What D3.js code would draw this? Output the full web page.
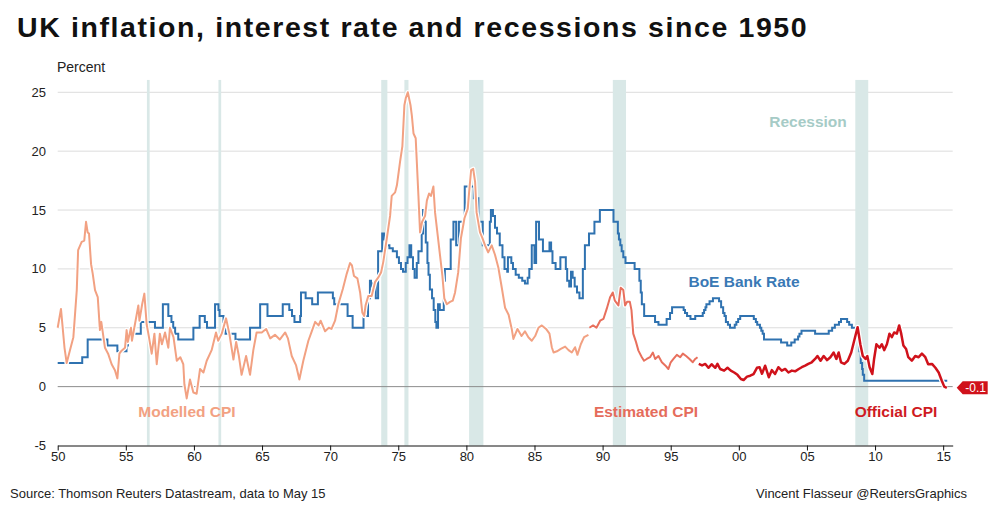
<!DOCTYPE html>
<html>
<head>
<meta charset="utf-8">
<script src="https://cdn.jsdelivr.net/npm/d3@7/dist/d3.min.js"></script>
<style>
  body { margin: 0; background: #fff; }
  svg { font-family: "Liberation Sans", Arial, sans-serif; }
</style>
</head>
<body>
<div class="container"></div>
<script>
// recession periods [start, end] in decimal years
var recessions = [
  [1956.55, 1956.75], [1961.8, 1962.0], [1973.75, 1974.2], [1975.45, 1975.75],
  [1980.2, 1981.25], [1990.75, 1991.72], [2008.55, 2009.5]
];

// BoE Bank Rate, change points [year, rate]
var bankRate = [
  [1950.0, 2.0], [1951.8, 2.5], [1952.2, 4.0], [1953.65, 3.5], [1954.38, 3.0],
  [1955.05, 3.5], [1955.15, 4.5], [1956.1, 5.5], [1957.14, 5.0], [1957.72, 7.0],
  [1958.12, 6.0], [1958.35, 5.5], [1958.48, 5.0], [1958.62, 4.5], [1958.85, 4.0],
  [1959.96, 5.0], [1960.42, 6.0], [1960.8, 5.5], [1960.96, 5.0], [1961.55, 7.0],
  [1961.8, 6.5], [1961.88, 6.0], [1962.17, 5.5], [1962.25, 5.0], [1962.32, 4.5],
  [1963.05, 4.0], [1964.12, 5.0], [1964.86, 7.0], [1965.4, 6.0], [1966.52, 7.0],
  [1967.0, 6.5], [1967.2, 6.0], [1967.38, 5.5], [1967.8, 6.0], [1967.86, 8.0],
  [1968.2, 7.5], [1968.68, 7.0], [1969.1, 8.0], [1970.2, 7.5], [1970.3, 7.0],
  [1971.28, 6.0], [1971.65, 5.0], [1972.45, 6.0], [1972.78, 7.5], [1972.92, 9.0],
  [1973.0, 8.5], [1973.15, 8.75], [1973.35, 7.5], [1973.52, 11.5], [1973.82, 13.0],
  [1973.95, 12.5], [1974.1, 12.0], [1974.35, 11.75], [1974.6, 11.5], [1974.9, 11.0],
  [1975.05, 10.5], [1975.2, 10.0], [1975.35, 9.75], [1975.55, 10.5], [1975.68, 11.0],
  [1975.82, 12.0], [1975.95, 11.0], [1976.08, 10.0], [1976.2, 9.25], [1976.36, 10.5],
  [1976.48, 11.5], [1976.72, 13.0], [1976.82, 15.0], [1976.95, 14.0], [1977.02, 12.25],
  [1977.14, 10.5], [1977.22, 9.5], [1977.32, 8.25], [1977.48, 7.5], [1977.6, 6.5],
  [1977.72, 5.5], [1977.8, 5.0], [1977.92, 7.0], [1978.05, 6.5], [1978.34, 9.0],
  [1978.42, 10.0], [1978.85, 12.5], [1979.05, 14.0], [1979.25, 12.0], [1979.45, 14.0],
  [1979.88, 17.0], [1980.55, 16.0], [1980.88, 14.0], [1981.2, 12.0], [1981.72, 14.0],
  [1981.8, 15.0], [1981.95, 14.5], [1982.1, 13.5], [1982.25, 13.0], [1982.45, 12.0],
  [1982.65, 11.0], [1982.8, 10.0], [1983.0, 9.75], [1983.05, 11.0], [1983.3, 10.5],
  [1983.42, 10.0], [1983.62, 9.5], [1983.85, 9.25], [1984.1, 9.0], [1984.3, 8.75],
  [1984.5, 9.25], [1984.62, 10.0], [1984.8, 12.0], [1985.0, 10.5], [1985.12, 14.0],
  [1985.33, 12.5], [1985.62, 11.5], [1986.1, 12.25], [1986.22, 11.5], [1986.32, 10.5],
  [1986.55, 10.0], [1986.9, 11.0], [1987.3, 10.0], [1987.4, 9.0], [1987.55, 8.5],
  [1987.68, 9.75], [1987.8, 9.25], [1987.95, 8.5], [1988.12, 8.0], [1988.3, 7.5],
  [1988.55, 10.0], [1988.7, 12.0], [1989.0, 13.0], [1989.4, 14.0], [1989.8, 15.0],
  [1990.8, 14.0], [1991.12, 13.0], [1991.2, 12.5], [1991.3, 12.0], [1991.4, 11.5],
  [1991.52, 11.0], [1991.68, 10.5], [1992.35, 10.0], [1992.7, 9.0], [1992.8, 8.0],
  [1992.88, 7.0], [1993.05, 6.0], [1993.85, 5.5], [1994.1, 5.25], [1994.7, 5.75],
  [1994.95, 6.25], [1995.1, 6.75], [1995.95, 6.5], [1996.05, 6.25], [1996.2, 6.0],
  [1996.45, 5.75], [1996.8, 6.0], [1997.35, 6.25], [1997.45, 6.5], [1997.55, 6.75],
  [1997.62, 7.0], [1997.85, 7.25], [1998.1, 7.5], [1998.55, 7.25], [1998.7, 6.75],
  [1998.85, 6.25], [1998.95, 6.0], [1999.05, 5.5], [1999.2, 5.25], [1999.35, 5.0],
  [1999.7, 5.25], [1999.82, 5.5], [1999.95, 5.75], [2000.1, 6.0], [2001.1, 5.75],
  [2001.25, 5.5], [2001.35, 5.25], [2001.55, 5.0], [2001.65, 4.75], [2001.75, 4.5],
  [2001.85, 4.0], [2003.1, 3.75], [2003.55, 3.5], [2003.85, 3.75], [2004.1, 4.0],
  [2004.35, 4.25], [2004.45, 4.5], [2004.6, 4.75], [2005.6, 4.5], [2006.6, 4.75],
  [2006.85, 5.0], [2007.05, 5.25], [2007.35, 5.5], [2007.5, 5.75], [2007.95, 5.5],
  [2008.1, 5.25], [2008.3, 5.0], [2008.75, 4.5], [2008.85, 3.0], [2008.95, 2.0],
  [2009.05, 1.5], [2009.1, 1.0], [2009.2, 0.5], [2015.3, 0.5]
];

// Modelled CPI 1950-1988
var modelledCPI = [
  [1950.0, 5.0], [1950.24, 6.6], [1950.5, 3.3], [1950.66, 2.0], [1950.9, 3.1],
  [1951.15, 4.2], [1951.4, 8.2], [1951.5, 11.6], [1951.76, 12.3], [1951.95, 12.4],
  [1952.08, 14.0], [1952.2, 13.1], [1952.3, 13.0], [1952.35, 12.1], [1952.45, 10.4],
  [1952.57, 9.6], [1952.74, 8.2], [1952.94, 7.6], [1953.1, 4.8], [1953.2, 5.5],
  [1953.47, 3.3], [1953.7, 2.8], [1953.96, 1.9], [1954.2, 1.4], [1954.38, 0.7],
  [1954.53, 2.8], [1954.65, 3.0], [1954.94, 3.3], [1955.06, 4.8], [1955.15, 3.8],
  [1955.38, 5.0], [1955.45, 3.9], [1955.67, 5.3], [1955.92, 6.9], [1956.0, 5.6],
  [1956.2, 7.0], [1956.36, 7.9], [1956.53, 5.3], [1956.7, 4.2], [1956.9, 2.8],
  [1957.1, 4.5], [1957.27, 1.9], [1957.5, 4.5], [1957.65, 3.6], [1957.88, 4.6],
  [1958.12, 3.3], [1958.24, 5.0], [1958.5, 4.2], [1958.74, 2.2], [1959.0, 2.5],
  [1959.22, 1.9], [1959.3, 0.2], [1959.47, -1.0], [1959.71, 0.6], [1959.96, -0.5],
  [1960.2, -0.6], [1960.45, 1.5], [1960.7, 1.2], [1960.94, 2.2], [1961.3, 3.1],
  [1961.62, 4.6], [1961.78, 3.9], [1962.04, 4.5], [1962.36, 5.8], [1962.6, 4.5],
  [1962.9, 2.3], [1963.1, 3.8], [1963.3, 2.6], [1963.5, 1.0], [1963.83, 2.6],
  [1964.12, 1.0], [1964.36, 3.1], [1964.6, 4.6], [1964.98, 4.6], [1965.3, 4.9],
  [1965.6, 4.1], [1965.95, 4.4], [1966.3, 4.0], [1966.7, 4.6], [1966.9, 4.1],
  [1967.18, 2.6], [1967.5, 1.8], [1967.74, 0.6], [1968.03, 2.2], [1968.4, 3.9],
  [1968.65, 4.7], [1968.9, 5.5], [1969.15, 5.2], [1969.3, 5.6], [1969.63, 4.7],
  [1969.9, 5.0], [1970.1, 4.9], [1970.36, 5.6], [1970.6, 7.0], [1970.93, 8.3],
  [1971.22, 9.6], [1971.46, 10.5], [1971.6, 10.3], [1971.75, 9.4], [1972.0, 9.2],
  [1972.2, 8.0], [1972.36, 6.3], [1972.5, 6.0], [1972.6, 6.9], [1972.8, 7.7],
  [1973.05, 7.7], [1973.3, 8.9], [1973.55, 9.3], [1973.74, 9.7], [1973.9, 10.6],
  [1974.16, 12.6], [1974.4, 14.5], [1974.52, 16.2], [1974.77, 16.5], [1974.9, 17.1],
  [1975.13, 19.1], [1975.3, 20.4], [1975.45, 23.9], [1975.55, 24.5], [1975.7, 25.0],
  [1975.9, 23.9], [1976.0, 23.0], [1976.12, 21.5], [1976.28, 21.1], [1976.48, 16.2],
  [1976.6, 13.1], [1976.75, 14.0], [1976.97, 14.5], [1977.1, 15.8], [1977.26, 16.4],
  [1977.4, 16.2], [1977.58, 17.0], [1977.7, 14.8], [1977.9, 12.8], [1978.07, 11.1],
  [1978.24, 9.4], [1978.38, 7.5], [1978.56, 7.0], [1978.8, 7.2], [1979.0, 7.3],
  [1979.17, 8.0], [1979.4, 9.7], [1979.6, 12.6], [1979.86, 14.3], [1980.1, 15.1],
  [1980.2, 16.5], [1980.35, 18.4], [1980.5, 18.5], [1980.64, 17.4], [1980.75, 14.8],
  [1981.0, 13.1], [1981.15, 12.7], [1981.37, 12.0], [1981.6, 11.4], [1981.86, 12.0],
  [1982.1, 11.2], [1982.35, 10.1], [1982.6, 8.4], [1982.84, 6.7], [1983.1, 6.1],
  [1983.33, 4.9], [1983.45, 4.05], [1983.75, 4.9], [1984.05, 4.3], [1984.3, 4.7],
  [1984.55, 4.2], [1984.8, 3.9], [1985.05, 4.3], [1985.29, 5.0], [1985.54, 5.2],
  [1985.85, 4.9], [1986.1, 4.5], [1986.27, 3.35], [1986.4, 2.9], [1986.65, 3.0],
  [1986.93, 3.2], [1987.25, 3.4], [1987.5, 3.1], [1987.74, 2.9], [1987.98, 3.35],
  [1988.15, 2.7], [1988.4, 3.6], [1988.64, 4.2], [1988.96, 4.4]
];

// Estimated CPI 1989-1996
var estimatedCPI = [
  [1989.03, 5.0], [1989.3, 5.2], [1989.55, 5.0], [1989.82, 5.6], [1990.06, 5.75],
  [1990.3, 6.6], [1990.55, 7.6], [1990.75, 8.0], [1990.9, 7.3], [1991.16, 6.9],
  [1991.33, 8.4], [1991.52, 8.2], [1991.65, 6.9], [1991.8, 7.2], [1992.0, 7.2],
  [1992.12, 6.5], [1992.25, 4.5], [1992.45, 3.8], [1992.63, 3.06], [1992.88, 2.5],
  [1993.04, 2.2], [1993.24, 2.35], [1993.48, 2.5], [1993.69, 2.9], [1993.86, 2.35],
  [1994.1, 2.6], [1994.35, 2.07], [1994.6, 1.8], [1994.83, 1.5], [1995.0, 2.07],
  [1995.2, 2.35], [1995.45, 2.7], [1995.7, 2.5], [1995.89, 2.8], [1996.13, 2.6],
  [1996.38, 2.35], [1996.62, 2.07], [1996.8, 2.35], [1996.97, 2.5]
];

// Official CPI 1997-2015
var officialCPI = [
  [1997.06, 1.93], [1997.3, 1.8], [1997.54, 1.93], [1997.77, 1.6], [1998.0, 1.9],
  [1998.27, 1.6], [1998.43, 1.93], [1998.63, 1.5], [1998.92, 1.36], [1999.17, 1.6],
  [1999.41, 1.36], [1999.66, 1.2], [1999.9, 1.0], [2000.15, 0.65], [2000.35, 0.56],
  [2000.6, 0.85], [2000.84, 0.93], [2001.08, 1.07], [2001.33, 1.6], [2001.52, 1.65],
  [2001.7, 1.1], [2001.93, 1.78], [2002.2, 0.8], [2002.42, 1.4], [2002.66, 1.07],
  [2002.9, 1.65], [2003.15, 1.36], [2003.4, 1.5], [2003.64, 1.2], [2003.89, 1.36],
  [2004.13, 1.3], [2004.4, 1.5], [2004.62, 1.65], [2004.87, 1.78], [2005.1, 1.93],
  [2005.35, 2.07], [2005.6, 2.35], [2005.77, 2.6], [2006.0, 2.2], [2006.23, 2.6],
  [2006.48, 2.25], [2006.72, 2.5], [2006.96, 2.9], [2007.16, 2.35], [2007.33, 2.9],
  [2007.5, 2.07], [2007.75, 1.93], [2008.0, 2.2], [2008.25, 2.9], [2008.5, 4.05],
  [2008.72, 5.05], [2008.92, 3.6], [2009.1, 2.6], [2009.3, 2.35], [2009.43, 2.6],
  [2009.6, 1.65], [2009.8, 1.07], [2009.93, 2.35], [2010.1, 3.6], [2010.33, 3.3],
  [2010.5, 3.6], [2010.67, 3.1], [2010.87, 3.6], [2011.06, 4.5], [2011.23, 4.2],
  [2011.4, 4.6], [2011.6, 4.5], [2011.77, 5.2], [2011.92, 4.5], [2012.08, 3.5],
  [2012.28, 3.2], [2012.44, 2.5], [2012.7, 2.2], [2012.95, 2.6], [2013.2, 2.5],
  [2013.44, 2.8], [2013.69, 2.5], [2013.9, 1.9], [2014.18, 1.93], [2014.43, 1.6],
  [2014.67, 1.2], [2014.9, 0.5], [2015.08, 0.0], [2015.27, -0.1]
];

var yTicks = [-5, 0, 5, 10, 15, 20, 25];
var xTicks = [1950, 1955, 1960, 1965, 1970, 1975, 1980, 1985, 1990, 1995, 2000, 2005, 2010, 2015];
var lastValue = "-0.1";

var width = 1004, height = 511;

var svg = d3.select(".container").append("svg")
  .attr("width", width)
  .attr("height", height);

var x = d3.scaleLinear().domain([1950, 2015.7]).range([57.7, 952.7]);
var y = d3.scaleLinear().domain([-5, 25]).range([445.5, 92.3]);

// title
svg.append("text")
  .attr("x", 17).attr("y", 37)
  .attr("font-size", 28.5).attr("font-weight", "bold").attr("fill", "#111")
  .attr("letter-spacing", 1.6)
  .text("UK inflation, interest rate and recessions since 1950");

svg.append("text")
  .attr("x", 57).attr("y", 72)
  .attr("font-size", 14).attr("fill", "#222")
  .text("Percent");

// gridlines
svg.selectAll(".grid")
  .data(yTicks.filter(function(d) { return d > -5 && d !== 0; }))
  .enter().append("line")
  .attr("class", "grid")
  .attr("x1", x.range()[0]).attr("x2", x.range()[1])
  .attr("y1", function(d) { return y(d); })
  .attr("y2", function(d) { return y(d); })
  .attr("stroke", "#dcdcdc").attr("stroke-width", 1);

// recession bands
svg.selectAll(".recession")
  .data(recessions)
  .enter().append("rect")
  .attr("class", "recession")
  .attr("x", function(d) { return x(d[0]); })
  .attr("width", function(d) { return x(d[1]) - x(d[0]); })
  .attr("y", y(26.05))
  .attr("height", y(-5) - y(26.05))
  .attr("fill", "#d9e8e7");

// zero line
svg.append("line")
  .attr("x1", x.range()[0]).attr("x2", x.range()[1])
  .attr("y1", y(0)).attr("y2", y(0))
  .attr("stroke", "#8c8c8c").attr("stroke-width", 1);

// y tick labels
svg.selectAll(".ylab")
  .data(yTicks)
  .enter().append("text")
  .attr("class", "ylab")
  .attr("x", 46).attr("y", function(d) { return y(d) + 4.5; })
  .attr("text-anchor", "end")
  .attr("font-size", 13).attr("fill", "#222")
  .text(function(d) { return d; });

// x axis
var xAxis = d3.axisBottom(x)
  .tickValues(xTicks)
  .tickSize(5)
  .tickSizeOuter(0)
  .tickFormat(function(d) { return d3.format("02d")(d % 100); });

var gx = svg.append("g")
  .attr("transform", "translate(0," + y(-5) + ")")
  .call(xAxis);
gx.select(".domain").attr("stroke", "#111");
gx.selectAll(".tick line").attr("stroke", "#111");
gx.selectAll(".tick text")
  .attr("font-size", 13).attr("fill", "#222")
  .attr("font-family", "Liberation Sans, Arial, sans-serif")
  .attr("dy", "0.6em");

// lines
var line = d3.line()
  .x(function(d) { return x(d[0]); })
  .y(function(d) { return y(d[1]); });

var stepLine = d3.line()
  .curve(d3.curveStepAfter)
  .x(function(d) { return x(d[0]); })
  .y(function(d) { return y(d[1]); });

svg.append("path")
  .datum(bankRate)
  .attr("d", stepLine)
  .attr("fill", "none")
  .attr("stroke", "#2f72b0")
  .attr("stroke-width", 2);

var cpiSeries = [
  { data: modelledCPI, color: "#f2a182", w: 2 },
  { data: estimatedCPI, color: "#e8705d", w: 2 },
  { data: officialCPI, color: "#d0121b", w: 2.5 }
];

cpiSeries.forEach(function(s) {
  svg.append("path")
    .datum(s.data)
    .attr("d", line)
    .attr("fill", "none")
    .attr("stroke", "#fff")
    .attr("stroke-width", s.w + 2.5)
    .attr("stroke-linejoin", "round");
});
cpiSeries.forEach(function(s) {
  svg.append("path")
    .datum(s.data)
    .attr("d", line)
    .attr("fill", "none")
    .attr("stroke", s.color)
    .attr("stroke-width", s.w)
    .attr("stroke-linejoin", "round");
});

// series labels
var labels = [
  { t: "Recession", x: 808, y: 127, c: "#a6cbc6" },
  { t: "BoE Bank Rate", x: 744, y: 287, c: "#3a79b5" },
  { t: "Modelled CPI", x: 187, y: 417, c: "#f2a182" },
  { t: "Estimated CPI", x: 646, y: 417, c: "#e56c5b" },
  { t: "Official CPI", x: 896, y: 417, c: "#cf1a22" }
];
svg.selectAll(".slab")
  .data(labels)
  .enter().append("text")
  .attr("class", "slab")
  .attr("x", function(d) { return d.x; })
  .attr("y", function(d) { return d.y; })
  .attr("text-anchor", "middle")
  .attr("font-size", 15.5).attr("font-weight", "bold")
  .attr("fill", function(d) { return d.c; })
  .text(function(d) { return d.t; });

// last value flag
var last = officialCPI[officialCPI.length - 1];
var fy = y(last[1]);
var fx = x(2015.7) + 4;
svg.append("path")
  .attr("d", "M" + fx + "," + fy + "L" + (fx + 6) + "," + (fy - 6.5) + "H" + (fx + 31) +
        "V" + (fy + 6.5) + "H" + (fx + 6) + "Z")
  .attr("fill", "#d0121b");
svg.append("text")
  .attr("x", fx + 19).attr("y", fy + 4.5)
  .attr("text-anchor", "middle")
  .attr("font-size", 12).attr("fill", "#fff")
  .text(lastValue);

// footer
svg.append("text")
  .attr("x", 10).attr("y", 498)
  .attr("font-size", 13).attr("fill", "#222")
  .text("Source: Thomson Reuters Datastream, data to May 15");
svg.append("text")
  .attr("x", 967).attr("y", 498)
  .attr("text-anchor", "end")
  .attr("font-size", 13).attr("fill", "#222")
  .text("Vincent Flasseur @ReutersGraphics");
</script>
</body>
</html>
